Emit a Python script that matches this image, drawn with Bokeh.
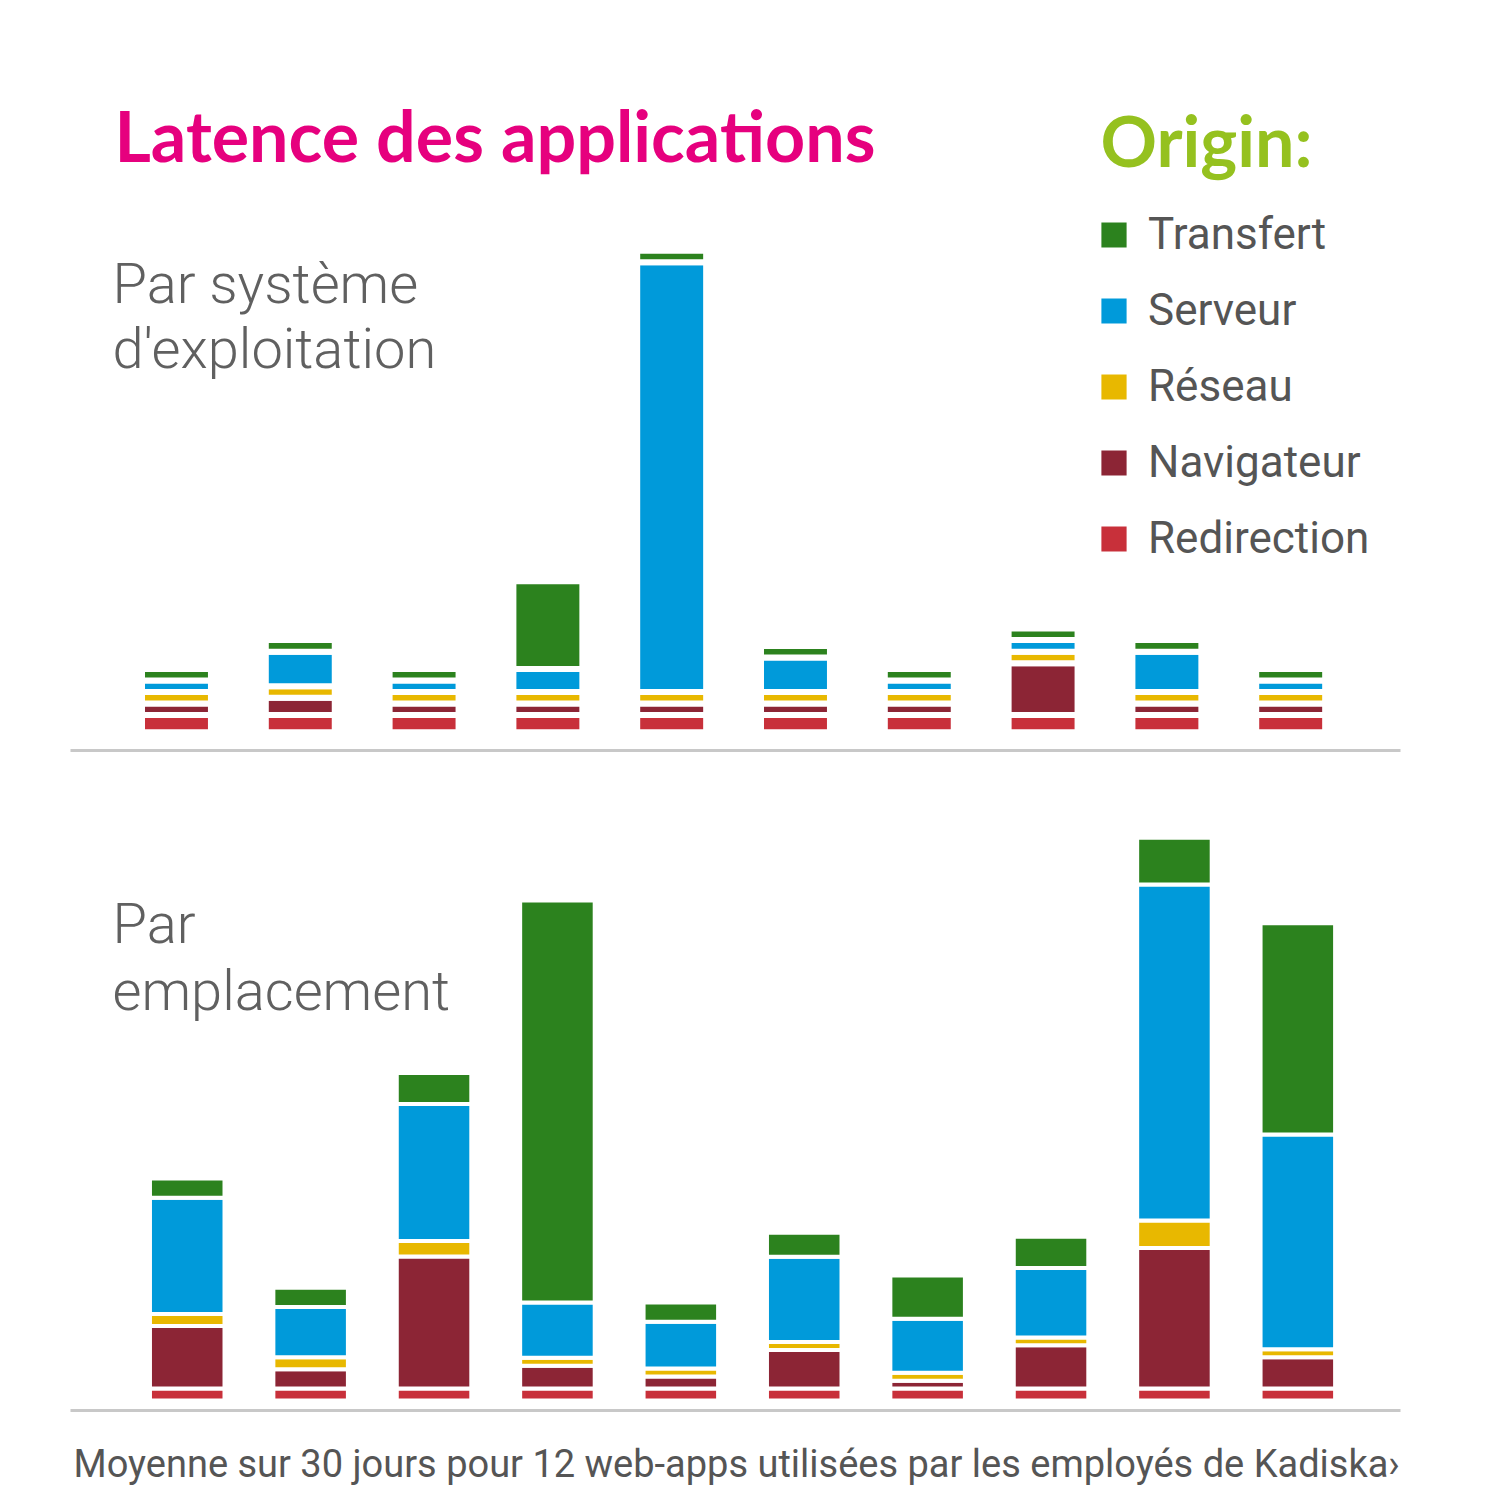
from bokeh.plotting import figure
from bokeh.models import Range1d, Label, Legend, LegendItem, ColumnDataSource, FixedTicker
from bokeh.layouts import column
from bokeh.embed import file_html
from bokeh.resources import INLINE

# ---------------- data (ms) ----------------
series = ["Redirection", "Navigateur", "Réseau", "Serveur", "Transfert"]
colors = ["#C8303A", "#8C2535", "#E8B800", "#009ADA", "#2C821E"]

os_categories = ["OS 1", "OS 2", "OS 3", "OS 4", "OS 5", "OS 6", "OS 7", "OS 8", "OS 9", "OS 10"]
os_redirection = [15, 15, 15, 15, 15, 15, 15, 15, 15, 15]
os_navigateur  = [10, 15, 10, 10, 10, 10, 10, 45, 10, 10]
os_reseau      = [10, 10, 10, 10, 10, 10, 10, 10, 10, 10]
os_serveur     = [10, 30, 10, 20, 373, 30, 10, 10, 35, 10]
os_transfert   = [10, 10, 10, 76, 10, 10, 10, 10, 10, 10]

loc_categories = ["Site 1", "Site 2", "Site 3", "Site 4", "Site 5", "Site 6", "Site 7", "Site 8", "Site 9", "Site 10"]
loc_redirection = [10, 10, 10, 10, 10, 10, 10, 10, 10, 10]
loc_navigateur  = [52, 16, 110, 19, 10, 32, 6.5, 36, 117, 26]
loc_reseau      = [10, 10, 13, 6.7, 6.7, 6.8, 6.6, 6.5, 23, 6.7]
loc_serveur     = [97, 42, 114, 46, 39, 71, 45, 58, 280, 179]
loc_transfert   = [16, 16, 26, 335, 16, 20, 36, 26, 39, 176]

title_text = "Latence des applications"
legend_title = "Origin:"
sub1 = ["Par système", "d'exploitation"]
sub2 = ["Par", "emplacement"]
footer = "Moyenne sur 30 jours pour 12 web-apps utilisées par les employés de Kadiska›"

W = 1485
GRAY_TXT = "#606060"


def base_fig(height, xr, yr, bottom):
    p = figure(width=W, height=height, x_range=xr, y_range=yr,
               output_backend="svg", toolbar_location=None,
               y_axis_location=None, x_axis_location="below",
               min_border_left=70, min_border_right=85,
               min_border_top=0, min_border_bottom=bottom)
    p.outline_line_color = None
    p.xgrid.visible = False
    p.ygrid.visible = False
    p.background_fill_color = "white"
    ax = p.xaxis[0]
    ax.ticker = FixedTicker(ticks=[])
    ax.axis_line_color = "#c8c8c8"
    ax.axis_line_width = 3
    ax.major_tick_line_color = None
    ax.minor_tick_line_color = None
    return p


# ---------------- top panel ----------------
src1 = ColumnDataSource(dict(
    x=list(range(len(os_categories))), cat=os_categories,
    Redirection=os_redirection, Navigateur=os_navigateur, Réseau=os_reseau,
    Serveur=os_serveur, Transfert=os_transfert))

p1 = base_fig(778, Range1d(-0.856, 9.887), Range1d(-15.79, 635.1), 28)
r1 = p1.vbar_stack(series, x="x", width=0.557, source=src1,
                   fill_color=colors, line_color="white", line_width=6)

p1.add_layout(Label(x=44, y=616, x_units="screen", y_units="screen",
                    text=title_text, text_font="Lato", text_font_style="bold",
                    text_baseline="alphabetic",
                    text_font_size="70px", text_color="#E6007E"))
p1.add_layout(Label(x=1030, y=611, x_units="screen", y_units="screen",
                    text=legend_title, text_font="Lato", text_font_style="bold",
                    text_baseline="alphabetic",
                    text_font_size="70px", text_color="#95C11F"))
for t, yy in zip(sub1, [467, 402]):
    p1.add_layout(Label(x=42, y=yy, x_units="screen", y_units="screen",
                        text=t, text_font="Roboto Light", text_baseline="alphabetic",
                        text_font_size="56px", text_color=GRAY_TXT))

items = [LegendItem(label=series[k], renderers=[r1[k]]) for k in [4, 3, 2, 1, 0]]
leg = Legend(items=items, location=(1024, 186), orientation="vertical",
             glyph_width=39, glyph_height=39, label_height=52,
             label_standoff=15, spacing=24, padding=0, margin=0,
             border_line_color=None, background_fill_alpha=0,
             label_text_font="Roboto", label_text_font_size="44px",
             label_text_color="#555555")
p1.add_layout(leg)

# ---------------- bottom panel ----------------
src2 = ColumnDataSource(dict(
    x=list(range(len(loc_categories))), cat=loc_categories,
    Redirection=loc_redirection, Navigateur=loc_navigateur, Réseau=loc_reseau,
    Serveur=loc_serveur, Transfert=loc_transfert))

p2 = base_fig(644, Range1d(-0.946, 9.832), Range1d(-8.333, 518.33), 12)
p2.vbar_stack(series, x="x", width=0.604, source=src2,
              fill_color=colors, line_color="white", line_width=4)

for t, yy in zip(sub2, [487, 420]):
    p2.add_layout(Label(x=42, y=yy, x_units="screen", y_units="screen",
                        text=t, text_font="Roboto Light", text_baseline="alphabetic",
                        text_font_size="56px", text_color=GRAY_TXT))

# ---------------- footer ----------------
p3 = figure(width=W, height=72, x_range=Range1d(0, 1), y_range=Range1d(0, 1),
            output_backend="svg", toolbar_location=None,
            x_axis_location=None, y_axis_location=None,
            min_border_left=70, min_border_right=70, min_border_top=0, min_border_bottom=0)
p3.outline_line_color = None
p3.xgrid.visible = False
p3.ygrid.visible = False
p3.add_layout(Label(x=3, y=31, x_units="screen", y_units="screen",
                    text=footer, text_font="Roboto", text_baseline="alphabetic",
                    text_font_size="38px", text_color="#555555"))

layout = column(p1, p2, p3, spacing=0)
open("out.html", "w").write(file_html(layout, INLINE))
